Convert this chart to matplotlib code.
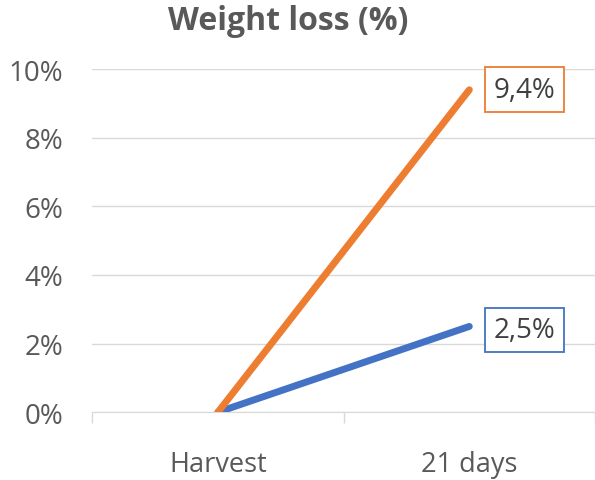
import matplotlib.pyplot as plt
from matplotlib.ticker import FuncFormatter

categories = ["Harvest", "21 days"]
series_a = [0.0, 2.5]   # blue
series_b = [0.0, 9.4]   # orange
labels_a = "2,5%"
labels_b = "9,4%"
yticks = [0, 2, 4, 6, 8, 10]

blue = "#4472C4"
orange = "#ED7D31"
grey = "#595959"

plt.rcParams['font.family'] = ['Open Sans', 'DejaVu Sans']

fig = plt.figure(figsize=(5.95, 4.81), dpi=100)
ax = fig.add_axes([0.155, 0.141, 0.845, 0.713])

x = range(len(categories))
ax.plot(x, series_a, color=blue, lw=5, solid_capstyle='round', zorder=3)
ax.plot(x, series_b, color=orange, lw=5, solid_capstyle='round', zorder=3)

ax.set_xlim(-0.5, 1.5)
ax.set_ylim(0, 10)
ax.set_yticks(yticks)
ax.yaxis.set_major_formatter(FuncFormatter(lambda v, p: f"{v/100:.0%}"))
ax.set_xticks(list(x))
ax.set_xticklabels(categories)
ax.set_xticks([-0.5, 0.5, 1.5], minor=True)
ax.tick_params(axis='x', which='major', length=0, pad=27, labelsize=19.5, labelcolor=grey)
ax.tick_params(axis='x', which='minor', length=8, color='#D9D9D9', width=1)
ax.tick_params(axis='y', length=0, pad=21, labelsize=20, labelcolor=grey)

ax.grid(axis='y', color='#D9D9D9', lw=1)
ax.set_axisbelow(True)
for s in ['top', 'right', 'left']:
    ax.spines[s].set_visible(False)
ax.spines['bottom'].set_color('#D9D9D9')

ax.annotate(labels_b, (1, series_b[1]), xytext=(1.22, series_b[1]), fontsize=20,
            color='#404040', ha='center', va='center',
            bbox=dict(boxstyle='square,pad=0.3', fc='white', ec=orange, lw=1.3))
ax.annotate(labels_a, (1, series_a[1]), xytext=(1.22, series_a[1] - 0.1), fontsize=20,
            color='#404040', ha='center', va='center',
            bbox=dict(boxstyle='square,pad=0.3', fc='white', ec=blue, lw=1.3))

fig.text(0.485, 0.955, "Weight loss (%)", ha='center', va='center', fontsize=23,
         fontweight='bold', color=grey)

fig.savefig("out.png", dpi=100)
